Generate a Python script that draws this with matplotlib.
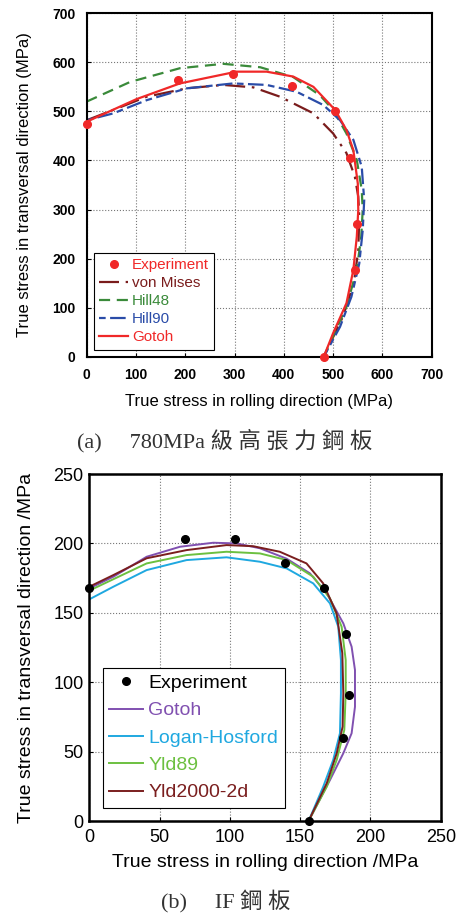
import matplotlib.pyplot as plt

plt.rcParams['font.family'] = ['Liberation Sans', 'DejaVu Sans']

# (a) 780MPa steel
exp_a_x = [0, 185, 296, 416, 504, 534, 548, 545, 481]
exp_a_y = [474, 564, 576, 552, 501, 404, 270, 177, 0]

mises_x = [0, 54, 122, 203, 277, 338, 392, 460, 500, 527, 544, 551, 553, 551, 542, 520, 481]
mises_y = [482, 503, 530, 547, 554, 549, 530, 496, 455, 415, 367, 326, 285, 217, 150, 82, 0]

hill48_x = [0, 88, 189, 277, 352, 419, 473, 500, 527, 548, 558, 560, 557, 548, 527, 481]
hill48_y = [520, 560, 588, 597, 590, 570, 533, 503, 455, 401, 340, 299, 245, 177, 102, 0]

hill90_x = [0, 54, 122, 203, 297, 365, 426, 480, 514, 541, 558, 563, 560, 553, 537, 514, 481]
hill90_y = [482, 496, 523, 547, 557, 554, 540, 513, 482, 442, 387, 319, 258, 190, 122, 61, 0]

gotoh_a_x = [0, 101, 189, 304, 365, 419, 460, 504, 527, 541, 550, 551, 548, 541, 527, 500, 481]
gotoh_a_y = [479, 525, 557, 581, 581, 571, 550, 503, 462, 421, 353, 299, 245, 177, 109, 48, 0]

# (b) IF steel
exp_b_x = [0, 68, 104, 139.5, 166.7, 182.6, 185, 180.7, 156]
exp_b_y = [167.6, 203, 203, 186, 167.6, 135, 90.8, 59.6, 0]

gotoh_b_x = [0, 17.1, 40.8, 64.5, 88.2, 104.8, 121.4, 140.4, 157, 168.9, 180.7, 186.6, 189, 189, 186.6, 180.7, 171.2, 156]
gotoh_b_y = [167.6, 176, 190.4, 197.6, 200.5, 200, 196.5, 189, 178.4, 164, 142.4, 125.6, 108.8, 82.3, 63.2, 48.8, 29.5, 0]

logan_x = [0, 17.1, 40.8, 69.2, 97.6, 121.4, 140.4, 159.3, 171.2, 177.1, 179, 179, 178.3, 173.5, 166.4, 156]
logan_y = [159.7, 168.8, 180.8, 188, 190, 186.8, 182, 171.2, 156.8, 140, 116, 92, 63.2, 44, 24.7, 0]

yld89_x = [0, 40.8, 69.2, 97.6, 121.4, 140.4, 159.3, 171.2, 179.5, 182.4, 182.4, 181.4, 176, 168.9, 156]
yld89_y = [166, 185.6, 191.6, 194, 192.8, 188, 176, 160.4, 140, 116, 92, 65.6, 44, 24.7, 0]

yld2000_x = [0, 17.1, 40.8, 69.2, 97.6, 116.6, 135.5, 154.5, 166.4, 175.9, 180, 180.7, 180.2, 176, 168.9, 156]
yld2000_y = [168.8, 177.2, 189.3, 195.2, 198.8, 198, 194, 185.6, 171.2, 149.6, 120.8, 92, 68, 48.8, 27.2, 0]

fig = plt.figure(figsize=(4.57, 9.16), dpi=100)

# ---- top chart
ax1 = fig.add_axes([0.1897, 0.6106, 0.755, 0.3749])
ax1.plot(mises_x, mises_y, color='#7a1c1c', lw=1.6, ls=(0, (9, 3, 1.2, 3)), label='von Mises')
ax1.plot(hill48_x, hill48_y, color='#3a8a3a', lw=1.6, ls=(0, (5, 3)), label='Hill48')
ax1.plot(hill90_x, hill90_y, color='#2a4ca8', lw=1.6, ls=(0, (3, 2, 7, 2)), label='Hill90')
ax1.plot(gotoh_a_x, gotoh_a_y, color='#f02828', lw=1.6, label='Gotoh')
ax1.plot(exp_a_x, exp_a_y, 'o', color='#f02828', ms=5.5, clip_on=False, zorder=5, label='Experiment')
ax1.set_xlim(0, 700); ax1.set_ylim(0, 700)
ax1.set_xticks(range(0, 701, 100)); ax1.set_yticks(range(0, 701, 100))
ax1.grid(True, ls=':', color='#777777', lw=0.8)
ax1.tick_params(direction='in', length=3, pad=8, labelsize=10)
for lab in ax1.get_xticklabels() + ax1.get_yticklabels():
    lab.set_fontweight('bold')
for s in ax1.spines.values():
    s.set_linewidth(1.5)
ax1.set_xlabel('True stress in rolling direction (MPa)', fontsize=12)
ax1.set_ylabel('True stress in transversal direction (MPa)', fontsize=12)
ax1.xaxis.set_label_coords(0.5, -0.108)
ax1.yaxis.set_label_coords(-0.158, 0.5)
h, l = ax1.get_legend_handles_labels()
order = [4, 0, 1, 2, 3]
leg1 = ax1.legend([h[i] for i in order], [l[i] for i in order], loc='lower left', bbox_to_anchor=(0.021, 0.02),
                  borderaxespad=0, fontsize=11, frameon=True, fancybox=False, framealpha=1, edgecolor='black',
                  handlelength=1.9, handletextpad=0.25, labelspacing=0.27, borderpad=0.35)
leg1.get_frame().set_linewidth(0.8)
for txt, c in zip(leg1.get_texts(), ['#f02828', '#7a1c1c', '#3a8a3a', '#2a4ca8', '#f02828']):
    txt.set_color(c)

# ---- bottom chart
ax2 = fig.add_axes([0.1954, 0.1037, 0.769, 0.3788])
ax2.plot(gotoh_b_x, gotoh_b_y, color='#8050b0', lw=1.4, label='Gotoh')
ax2.plot(logan_x, logan_y, color='#1fa8e0', lw=1.4, label='Logan-Hosford')
ax2.plot(yld89_x, yld89_y, color='#6cc040', lw=1.4, label='Yld89')
ax2.plot(yld2000_x, yld2000_y, color='#7a1e1e', lw=1.4, label='Yld2000-2d')
ax2.plot(exp_b_x, exp_b_y, 'o', color='black', ms=5.5, clip_on=False, zorder=5, label='Experiment')
ax2.set_xlim(0, 250); ax2.set_ylim(0, 250)
ax2.set_xticks(range(0, 251, 50)); ax2.set_yticks(range(0, 251, 50))
ax2.grid(True, ls=':', color='#777777', lw=0.8)
ax2.tick_params(direction='in', length=3, labelsize=13)
ax2.tick_params(axis='x', pad=6)
ax2.tick_params(axis='y', pad=4)
for s in ax2.spines.values():
    s.set_linewidth(1.8)
ax2.set_xlabel('True stress in rolling direction /MPa', fontsize=14)
ax2.set_ylabel('True stress in transversal direction /MPa', fontsize=14)
ax2.xaxis.set_label_coords(0.5, -0.095)
ax2.yaxis.set_label_coords(-0.155, 0.5)
h, l = ax2.get_legend_handles_labels()
leg2 = ax2.legend([h[i] for i in order], [l[i] for i in order], loc='lower left', bbox_to_anchor=(0.038, 0.037),
                  borderaxespad=0, fontsize=14, frameon=True, fancybox=False, framealpha=1, edgecolor='black',
                  handlelength=1.75, handletextpad=0.25, labelspacing=0.5, borderpad=0.35)
leg2.get_frame().set_linewidth(0.8)
for txt, c in zip(leg2.get_texts(), ['black', '#8050b0', '#1fa8e0', '#6cc040', '#7a1e1e']):
    txt.set_color(c)

# captions
cap_font = ['Liberation Serif', 'Noto Sans CJK TC']
fig.text(225 / 457, 1 - 441 / 916, '(a)\u3000 780MPa 級 高 張 力 鋼 板', ha='center', va='center',
         fontsize=16, family=cap_font, color='#333333')
fig.text(226 / 457, 1 - 902 / 916, '(b)\u3000 IF 鋼 板', ha='center', va='center',
         fontsize=16, family=cap_font, color='#333333')

fig.savefig('out.png', dpi=100)
